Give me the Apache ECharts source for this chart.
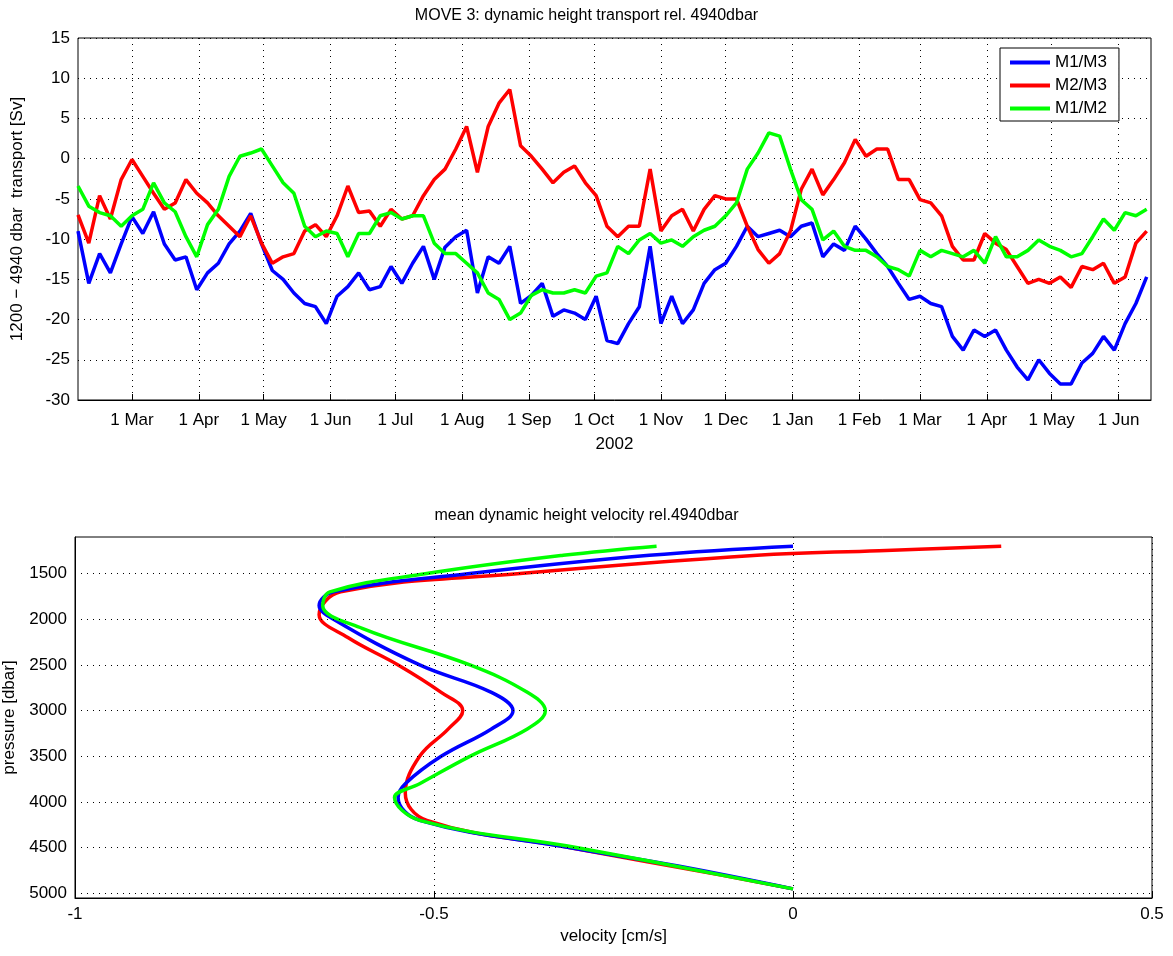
<!DOCTYPE html>
<html>
<head>
<meta charset="utf-8">
<script src="https://cdn.jsdelivr.net/npm/echarts@6/dist/echarts.min.js"></script>
<style>
  html, body { margin: 0; padding: 0; background: #fff; }
  #chart { width: 1173px; height: 956px; }
</style>
</head>
<body>
<div id="chart"></div>
<script>
// time axis: daily from 2002-02-04 to 2003-06-16, values sampled every 5 days
var startDate = Date.UTC(2002, 1, 4);
var dayCount = 498;
var sampleStep = 5;
var monthNames = ['Jan','Feb','Mar','Apr','May','Jun','Jul','Aug','Sep','Oct','Nov','Dec'];

var m1m3 = [-9,-15.5,-11.8,-14.2,-10.6,-7.2,-9.3,-6.6,-10.6,-12.6,-12.2,-16.3,-14.2,-13,-10.6,-9,-6.8,-10.6,-13.9,-15,
  -16.7,-18,-18.4,-20.5,-17.1,-15.9,-14.2,-16.3,-15.9,-13.4,-15.5,-13,-10.9,-15,-11,-9.7,-8.9,-16.7,-12.2,-13,
  -10.9,-18,-17,-15.5,-19.6,-18.8,-19.2,-20,-17.1,-22.6,-23,-20.5,-18.4,-10.9,-20.5,-17.1,-20.5,-18.8,-15.5,-13.8,
  -13,-10.9,-8.4,-9.7,-9.3,-8.9,-9.7,-8.4,-8,-12.2,-10.6,-11.4,-8.4,-10,-11.8,-13.4,-15.5,-17.5,-17.1,-18,
  -18.4,-22.1,-23.8,-21.3,-22.1,-21.3,-23.8,-25.9,-27.5,-25,-26.7,-28,-28,-25.4,-24.2,-22.1,-23.8,-20.5,-18,-14.7];
var m2m3 = [-7,-10.5,-4.6,-7.5,-2.6,-0.1,-2.2,-4.3,-6.3,-5.5,-2.6,-4.3,-5.5,-7.1,-8.4,-9.7,-7.1,-10.5,-13,-12.2,
  -11.8,-9,-8.2,-9.7,-7.1,-3.4,-6.7,-6.5,-8.4,-6.3,-7.5,-7.1,-4.6,-2.6,-1.3,1.2,4,-1.7,4,6.9,
  8.6,1.6,0.3,-1.3,-3,-1.7,-0.9,-3,-4.6,-8.4,-9.7,-8.4,-8.4,-1.3,-9,-7.1,-6.3,-9,-6.3,-4.6,
  -5,-5,-8.4,-11.3,-13,-11.8,-9,-3.8,-1.3,-4.5,-2.6,-0.5,2.4,0.3,1.2,1.2,-2.6,-2.6,-5.1,-5.5,
  -7.1,-10.9,-12.6,-12.6,-9.3,-10.5,-11.3,-13.4,-15.5,-15,-15.5,-14.7,-16,-13.4,-13.8,-13,-15.5,-14.7,-10.5,-9];
var m1m2 = [-3.4,-5.9,-6.7,-7.1,-8.4,-7.1,-6.3,-3,-5.5,-6.6,-9.7,-12.2,-8.2,-6.3,-2.2,0.3,0.7,1.2,-0.9,-3,
  -4.3,-8.4,-9.7,-9,-9.3,-12.2,-9.3,-9.3,-7.1,-6.7,-7.5,-7.1,-7.1,-10.5,-11.8,-11.8,-13,-14.2,-16.7,-17.5,
  -20,-19.2,-17,-16.3,-16.7,-16.7,-16.3,-16.7,-14.6,-14.2,-10.9,-11.8,-10.1,-9.3,-10.5,-10.1,-10.9,-9.7,-8.9,-8.4,
  -7.1,-5.5,-1.3,0.7,3.2,2.8,-1.3,-5.1,-6.3,-10.1,-9,-10.9,-11.4,-11.4,-12.2,-13.4,-13.8,-14.6,-11.4,-12.2,
  -11.4,-11.8,-12.2,-11.4,-13,-9.7,-12.2,-12.2,-11.4,-10.1,-10.9,-11.4,-12.2,-11.8,-9.7,-7.5,-8.9,-6.7,-7.1,-6.3];

// mean velocity profiles: pressure [dbar] and velocity [cm/s]
var pM1M3 = [1200,1300,1500,1700,1850,2000,2500,2800,3000,3200,3500,3800,3950,4200,4500,4700,4950];
var vM1M3 = [0,-0.2,-0.45,-0.64,-0.66,-0.64,-0.52,-0.42,-0.39,-0.42,-0.49,-0.54,-0.55,-0.52,-0.31,-0.16,0];
var pM2M3 = [1200,1250,1300,1500,1700,1950,2200,2500,2800,3000,3200,3500,3900,4200,4500,4800,4950];
var vM2M3 = [0.29,0.12,-0.05,-0.38,-0.63,-0.66,-0.62,-0.55,-0.49,-0.46,-0.48,-0.52,-0.54,-0.51,-0.31,-0.1,0];
var pM1M2 = [1200,1300,1500,1700,1850,2100,2500,2800,3000,3200,3500,3800,3950,4200,4500,4950];
var vM1M2 = [-0.19,-0.32,-0.51,-0.645,-0.655,-0.6,-0.45,-0.37,-0.345,-0.37,-0.45,-0.52,-0.555,-0.52,-0.3,0];

var days = [];
for (var i = 0; i < dayCount; i++) {
  var d = new Date(startDate + i * 86400000);
  days.push(d.toISOString().slice(0, 10));
}
function isMonthStart(idx, val) { return val.slice(8) === '01'; }
function toPairs(arr) {
  return arr.map(function (v, i) { return [i * sampleStep, v]; });
}
function profile(p, v) {
  return p.map(function (pp, i) { return [v[i], pp]; });
}

var FONT = 'Liberation Sans';
var chart = echarts.init(document.getElementById('chart'));
var dotted = { color: '#000', type: [1, 5], width: 1 };
var lineW = 3.5;

var option = {
  animation: false,
  textStyle: { fontFamily: FONT },
  title: [
    { text: 'MOVE 3: dynamic height transport rel. 4940dbar', left: 'center', top: 3,
      textStyle: { fontSize: 16, fontWeight: 'normal', color: '#000', fontFamily: FONT } },
    { text: 'mean dynamic height velocity rel.4940dbar', left: 'center', top: 503,
      textStyle: { fontSize: 16, fontWeight: 'normal', color: '#000', fontFamily: FONT } }
  ],
  legend: {
    data: ['M1/M3', 'M2/M3', 'M1/M2'],
    orient: 'vertical', left: 1000, top: 48,
    borderColor: '#000', borderWidth: 1, backgroundColor: '#fff',
    padding: [6, 12, 4, 10], itemGap: 6, itemWidth: 40, itemHeight: 4, icon: 'rect',
    textStyle: { fontSize: 17, color: '#000', fontFamily: FONT }
  },
  grid: [
    { left: 78, right: 22, top: 38, bottom: 556, show: true, borderColor: '#000', borderWidth: 1,
      outerBoundsMode: 'none' },
    { left: 75, right: 21, top: 537, bottom: 58, show: true, borderColor: '#000', borderWidth: 1,
      outerBoundsMode: 'none' }
  ],
  xAxis: [
    { type: 'category', gridIndex: 0, data: days, boundaryGap: false,
      name: '2002', nameLocation: 'middle', nameGap: 36,
      nameTextStyle: { fontSize: 17, color: '#000' },
      axisLine: { onZero: false, lineStyle: { color: '#000' } },
      axisTick: { inside: true, length: 6, interval: isMonthStart, lineStyle: { color: '#000' } },
      axisLabel: { interval: isMonthStart, fontSize: 17, color: '#000', margin: 12,
        formatter: function (v) { return '1 ' + monthNames[+v.slice(5, 7) - 1]; } },
      splitLine: { show: true, interval: isMonthStart, lineStyle: dotted } },
    { type: 'value', gridIndex: 1, min: -1, max: 0.5, interval: 0.5,
      name: 'velocity [cm/s]', nameLocation: 'middle', nameGap: 30,
      nameTextStyle: { fontSize: 17, color: '#000' },
      axisLine: { onZero: false, lineStyle: { color: '#000' } },
      axisTick: { inside: true, length: 6, lineStyle: { color: '#000' } },
      axisLabel: { fontSize: 17, color: '#000', margin: 8 },
      splitLine: { show: true, lineStyle: dotted } }
  ],
  yAxis: [
    { type: 'value', gridIndex: 0, min: -30, max: 15, interval: 5,
      name: '1200 − 4940 dbar  transport [Sv]', nameLocation: 'middle', nameGap: 52,
      nameTextStyle: { fontSize: 17, color: '#000' },
      axisLine: { onZero: false, lineStyle: { color: '#000' } },
      axisTick: { inside: true, length: 6, lineStyle: { color: '#000' } },
      axisLabel: { fontSize: 17, color: '#000', margin: 8 },
      splitLine: { show: true, lineStyle: dotted } },
    { type: 'value', gridIndex: 1, min: 1100, max: 5050, interval: 50, inverse: true,
      name: 'pressure [dbar]', nameLocation: 'middle', nameGap: 44,
      nameTextStyle: { fontSize: 17, color: '#000' },
      axisLine: { onZero: false, lineStyle: { color: '#000' } },
      axisTick: { show: false },
      axisLabel: { fontSize: 17, color: '#000', margin: 8,
        formatter: function (v) { return (v % 500 === 0 && v >= 1500) ? String(v) : ''; } },
      splitLine: { show: false } }
  ],
  series: [
    { name: 'M1/M3', type: 'line', xAxisIndex: 0, yAxisIndex: 0, data: toPairs(m1m3),
      symbol: 'none', color: '#0000ff', lineStyle: { width: lineW } },
    { name: 'M2/M3', type: 'line', xAxisIndex: 0, yAxisIndex: 0, data: toPairs(m2m3),
      symbol: 'none', color: '#ff0000', lineStyle: { width: lineW } },
    { name: 'M1/M2', type: 'line', xAxisIndex: 0, yAxisIndex: 0, data: toPairs(m1m2),
      symbol: 'none', color: '#00ff00', lineStyle: { width: lineW } },
    { name: 'M2/M3', type: 'line', xAxisIndex: 1, yAxisIndex: 1, data: profile(pM2M3, vM2M3),
      symbol: 'none', smooth: 0.4, color: '#ff0000', lineStyle: { width: lineW },
      markLine: { silent: true, symbol: 'none', label: { show: false },
        lineStyle: { color: '#000', type: [1, 5], width: 1 },
        data: [1500, 2000, 2500, 3000, 3500, 4000, 4500, 5000].map(function (p) { return { yAxis: p }; }) } },
    { name: 'M1/M3', type: 'line', xAxisIndex: 1, yAxisIndex: 1, data: profile(pM1M3, vM1M3),
      symbol: 'none', smooth: 0.4, color: '#0000ff', lineStyle: { width: lineW } },
    { name: 'M1/M2', type: 'line', xAxisIndex: 1, yAxisIndex: 1, data: profile(pM1M2, vM1M2),
      symbol: 'none', smooth: 0.4, color: '#00ff00', lineStyle: { width: lineW } }
  ]
};
chart.setOption(option);
</script>
</body>
</html>
